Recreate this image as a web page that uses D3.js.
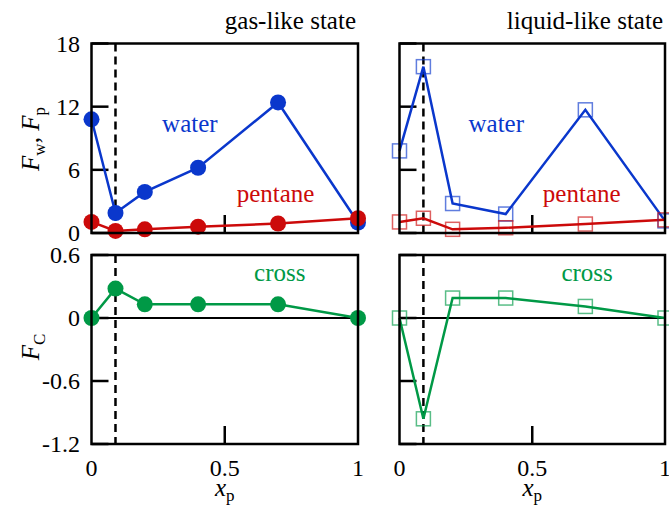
<!DOCTYPE html>
<html lang="en">
<head>
<meta charset="UTF-8">
<title>F vs xp</title>
<script src="https://cdn.jsdelivr.net/npm/d3@7"></script>
<style>
  * { margin: 0; padding: 0; }
  body { background: #fff; }
</style>
</head>
<body>
<svg width="669" height="508"></svg>
<script>
// data
const xp = [0, 0.09, 0.2, 0.4, 0.7, 1]
const gasWater = [10.8, 1.9, 3.9, 6.2, 12.4, 1.0]
const gasPentane = [1.05, 0.2, 0.35, 0.6, 0.9, 1.4]
const gasCross = [0, 0.28, 0.13, 0.13, 0.13, 0]
const liqWater = [7.8, 15.8, 2.8, 1.8, 11.7, 1.15]
const liqPentane = [1.05, 1.4, 0.35, 0.5, 0.85, 1.25]
const liqCross = [0, -0.96, 0.19, 0.19, 0.11, 0]
const topTicks = [0, 6, 12, 18]
const botTicks = [0.6, 0, -0.6, -1.2]
const xTicks = [0, 0.5, 1]
const xDash = 0.09

const svg = d3.select('svg').attr('font-family', "'Liberation Serif', 'Times New Roman', 'DejaVu Serif', serif")
const blue = '#0a37cc', red = '#cc0a0a', green = '#009946'

const panelsX = [[91.5, 358], [399.5, 665]]
const yTop = d3.scaleLinear().domain([0, 18]).range([233, 43.5])
const yBot = d3.scaleLinear().domain([-1.2, 0.6]).range([444, 255])

function panel(col, isGas) {
  const x = d3.scaleLinear().domain([0, 1]).range(panelsX[col])
  const g = svg.append('g')
  const rows = isGas
    ? [{ y: yTop, ticks: topTicks, series: [[gasWater, blue], [gasPentane, red]] },
       { y: yBot, ticks: botTicks, series: [[gasCross, green]] }]
    : [{ y: yTop, ticks: topTicks, series: [[liqWater, blue], [liqPentane, red]] },
       { y: yBot, ticks: botTicks, series: [[liqCross, green]] }]

  rows.forEach((r, ri) => {
    const [y0, y1] = r.y.range()
    // zero line in bottom panel
    if (ri === 1) {
      g.append('line').attr('x1', x(0)).attr('x2', x(1))
        .attr('y1', r.y(0)).attr('y2', r.y(0))
        .attr('stroke', '#000').attr('stroke-width', 2)
    }
    // dashed line
    g.append('line').attr('x1', x(xDash)).attr('x2', x(xDash))
      .attr('y1', y1).attr('y2', y0)
      .attr('stroke', '#000').attr('stroke-width', 2.5).attr('stroke-dasharray', '8,5')
    // inward ticks
    r.ticks.forEach(t => {
      g.append('line').attr('x1', x(0)).attr('x2', x(0) + 17)
        .attr('y1', r.y(t)).attr('y2', r.y(t)).attr('stroke', '#000').attr('stroke-width', 2.5)
    })
    g.append('line').attr('x1', x(0.5)).attr('x2', x(0.5))
      .attr('y1', y0).attr('y2', y0 - 18).attr('stroke', '#000').attr('stroke-width', 2.5)

    // series
    const line = d3.line().x((d, i) => x(xp[i])).y(d => r.y(d))
    r.series.forEach(([vals, c]) => {
      g.append('path').datum(vals).attr('d', line)
        .attr('fill', 'none').attr('stroke', c).attr('stroke-width', 2.5)
    })
    r.series.forEach(([vals, c]) => {
      if (isGas) {
        g.selectAll(null).data(vals).enter().append('circle')
          .attr('cx', (d, i) => x(xp[i])).attr('cy', d => r.y(d)).attr('r', 8)
          .attr('fill', c)
      } else {
        g.selectAll(null).data(vals).enter().append('rect')
          .attr('x', (d, i) => x(xp[i]) - 7).attr('y', d => r.y(d) - 7)
          .attr('width', 14).attr('height', 14)
          .attr('fill', 'none').attr('stroke', c).attr('stroke-opacity', 0.65).attr('stroke-width', 1.5)
      }
    })

    // frame
    g.append('rect').attr('x', x(0)).attr('y', y1)
      .attr('width', x(1) - x(0)).attr('height', y0 - y1)
      .attr('fill', 'none').attr('stroke', '#000').attr('stroke-width', 2.5)

    // y tick labels only on the left column
    if (col === 0) {
      r.ticks.forEach(t => {
        g.append('text').attr('x', 80).attr('y', r.y(t)).attr('dy', '0.35em')
          .attr('text-anchor', 'end').attr('font-size', 24).text(t)
      })
    }
  })

  // x tick labels
  xTicks.forEach(t => {
    g.append('text').attr('x', x(t)).attr('y', 476).attr('text-anchor', 'middle')
      .attr('font-size', 24).text(t)
  })
  // x label
  const xl = g.append('text').attr('x', x(0.5)).attr('y', 496)
    .attr('text-anchor', 'middle').attr('font-size', 25)
  xl.append('tspan').attr('font-style', 'italic').text('x')
  xl.append('tspan').attr('font-size', 17).attr('dy', 5).text('p')

  // state title
  g.append('text').attr('x', x(1) - 2).attr('y', 29).attr('text-anchor', 'end')
    .attr('font-size', 25).text(isGas ? 'gas-like state' : 'liquid-like state')

  // series labels
  g.append('text').attr('x', x(isGas ? 0.265 : 0.26)).attr('y', 132)
    .attr('font-size', 25).attr('fill', blue).text('water')
  g.append('text').attr('x', x(isGas ? 0.545 : 0.54)).attr('y', 202)
    .attr('font-size', 25).attr('fill', red).text('pentane')
  g.append('text').attr('x', x(0.61)).attr('y', 281)
    .attr('font-size', 25).attr('fill', green).text('cross')
}

panel(0, true)
panel(1, false)

// y axis labels
const yl1 = svg.append('text').attr('transform', 'translate(39,139) rotate(-90)')
  .attr('text-anchor', 'middle').attr('font-size', 25)
yl1.append('tspan').attr('font-style', 'italic').text('F')
yl1.append('tspan').attr('font-size', 17).attr('dy', 6).text('w')
yl1.append('tspan').attr('dy', -6).text(', ')
yl1.append('tspan').attr('font-style', 'italic').text('F')
yl1.append('tspan').attr('font-size', 17).attr('dy', 6).text('p')

const yl2 = svg.append('text').attr('transform', 'translate(39,347) rotate(-90)')
  .attr('text-anchor', 'middle').attr('font-size', 25)
yl2.append('tspan').attr('font-style', 'italic').text('F')
yl2.append('tspan').attr('font-size', 17).attr('dy', 6).text('C')
</script>
</body>
</html>
